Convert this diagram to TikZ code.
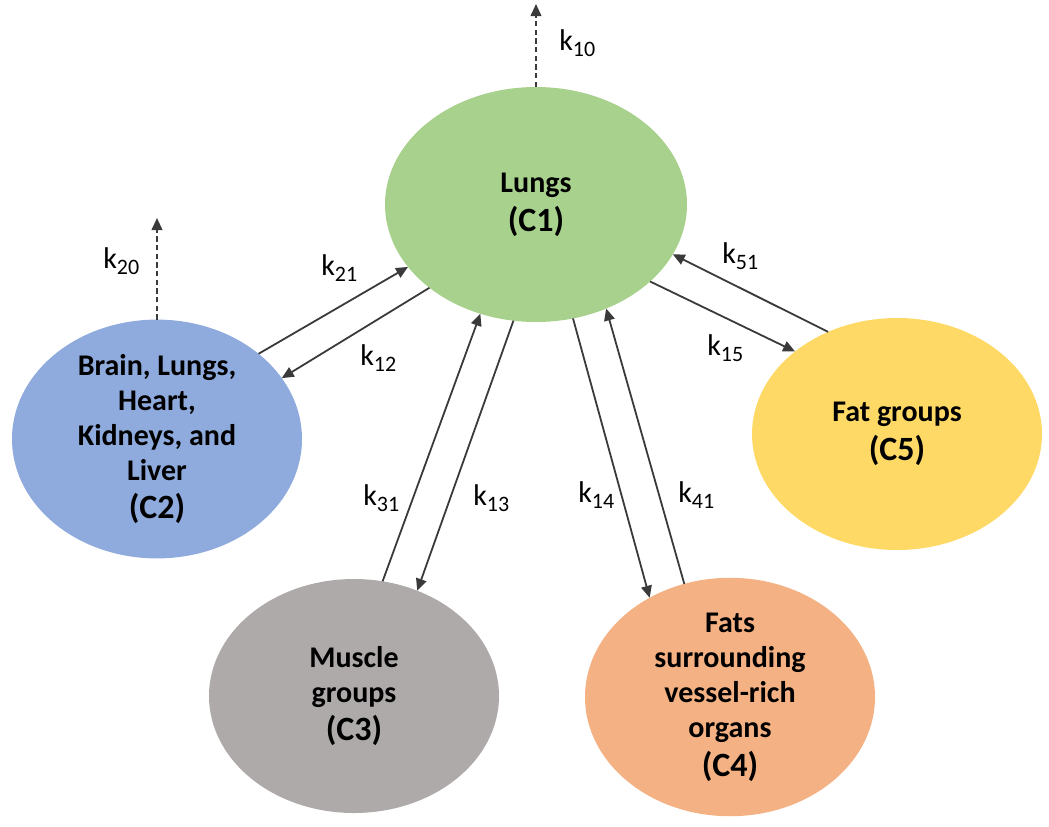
\documentclass[tikz,border=0pt]{standalone}
\usepackage{fontspec}
\setmainfont{Carlito}
\usetikzlibrary{arrows.meta,shapes.geometric}
\definecolor{cgreen}{HTML}{A9D18E}
\definecolor{cblue}{HTML}{8FAADC}
\definecolor{cgray}{HTML}{AEAAAA}
\definecolor{corange}{HTML}{F4B183}
\definecolor{cyellow}{HTML}{FFD966}
\definecolor{arrowgray}{HTML}{3A3A3A}
\newcommand\kname[1]{k\raisebox{-5pt}{\fontsize{16.5}{16.5}\selectfont #1}}
\newcommand\cid[1]{{\fontsize{25.5}{26.25}\selectfont #1}}
\begin{document}
\begin{tikzpicture}[x=0.75pt,y=-0.75pt,
  comp/.style={ellipse, draw=none, inner sep=0pt, outer sep=0pt, align=center,
    font=\bfseries\fontsize{22.5}{26.25}\selectfont, text=black,
    minimum width=217.5pt, minimum height=174pt},
  flow/.style={draw=arrowgray, line width=1.35pt, -{Triangle[length=9pt,width=8pt]}},
  loss/.style={flow, dash pattern=on 4pt off 2.5pt},
  klab/.style={anchor=base west, inner sep=0pt, font=\fontsize{22.5}{24}\selectfont, text=black}]
\useasboundingbox (0,0) rectangle (1049,826);
\node[comp, fill=cgreen, minimum width=226.5pt, minimum height=176.25pt] (c1) at (536,204.5) {Lungs\\[3pt]\cid{(C1)}};
\node[comp, fill=cblue] (c2) at (157,439) {Brain, Lungs,\\Heart,\\Kidneys, and\\Liver\\[2pt]\cid{(C2)}};
\node[comp, fill=cgray, minimum height=175.5pt] (c3) at (354,696) {Muscle\\groups\\[2pt]\cid{(C3)}};
\node[comp, fill=corange] (c4) at (730,697) {Fats\\surrounding\\vessel-rich\\organs\\[3pt]\cid{(C4)}};
\node[comp, fill=cyellow] (c5) at (897,434) {Fat groups\\[3pt]\cid{(C5)}};
\coordinate (k10top) at (536,4);
\coordinate (k20top) at (157,218);
\draw[loss] (c1.north) -- (k10top);
\draw[loss] (c2.north) -- (k20top);
\draw[flow] (c2.40) -- (c1.206);
\draw[flow] (c1.218) -- (c2.26);
\draw[flow] (c3.76) -- (c1.243);
\draw[flow] (c1.259) -- (c3.59);
\draw[flow] (c1.288) -- (c4.129);
\draw[flow] (c4.112) -- (c1.304);
\draw[flow] (c5.124) -- (c1.340);
\draw[flow] (c1.326) -- (c5.141);
\node[klab] (l10) at (559,50) {\kname{10}};
\node[klab] (l20) at (103,268) {\kname{20}};
\node[klab] (l21) at (321,275) {\kname{21}};
\node[klab] (l12) at (360,365) {\kname{12}};
\node[klab] (l31) at (363,505) {\kname{31}};
\node[klab] (l13) at (473,505) {\kname{13}};
\node[klab] (l14) at (578,502) {\kname{14}};
\node[klab] (l41) at (678,502) {\kname{41}};
\node[klab] (l15) at (707,355) {\kname{15}};
\node[klab] (l51) at (722,263) {\kname{51}};
\end{tikzpicture}
\end{document}
